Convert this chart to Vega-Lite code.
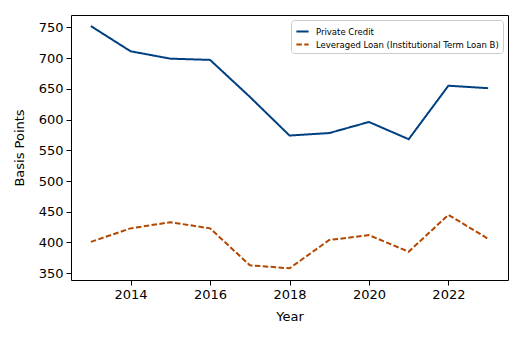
{
  "$schema": "https://vega.github.io/schema/vega-lite/v6.json",
  "width": 437,
  "height": 265,
  "autosize": "none",
  "padding": {"left": 71, "top": 15, "right": 14, "bottom": 58},
  "background": "white",
  "config": {
    "font": "DejaVu Sans",
    "view": {"stroke": "black", "strokeWidth": 1},
    "axis": {"grid": false, "domain": false, "tickColor": "black", "tickSize": 5, "tickWidth": 1, "labelColor": "black", "labelFontSize": 13, "labelPadding": 3, "titleFontSize": 13, "titleFontWeight": "normal", "titleColor": "black", "labelFont": "DejaVu Sans", "titleFont": "DejaVu Sans"},
    "legend": {"labelLimit": 0}
  },
  "data": {
    "values": [
      {"Year": 2013, "series": "Private Credit", "bp": 752},
      {"Year": 2014, "series": "Private Credit", "bp": 711},
      {"Year": 2015, "series": "Private Credit", "bp": 699},
      {"Year": 2016, "series": "Private Credit", "bp": 697},
      {"Year": 2017, "series": "Private Credit", "bp": 637},
      {"Year": 2018, "series": "Private Credit", "bp": 574},
      {"Year": 2019, "series": "Private Credit", "bp": 578},
      {"Year": 2020, "series": "Private Credit", "bp": 596},
      {"Year": 2021, "series": "Private Credit", "bp": 568},
      {"Year": 2022, "series": "Private Credit", "bp": 655},
      {"Year": 2023, "series": "Private Credit", "bp": 651},
      {"Year": 2013, "series": "Leveraged Loan (Institutional Term Loan B)", "bp": 401},
      {"Year": 2014, "series": "Leveraged Loan (Institutional Term Loan B)", "bp": 423},
      {"Year": 2015, "series": "Leveraged Loan (Institutional Term Loan B)", "bp": 433},
      {"Year": 2016, "series": "Leveraged Loan (Institutional Term Loan B)", "bp": 423},
      {"Year": 2017, "series": "Leveraged Loan (Institutional Term Loan B)", "bp": 363},
      {"Year": 2018, "series": "Leveraged Loan (Institutional Term Loan B)", "bp": 358},
      {"Year": 2019, "series": "Leveraged Loan (Institutional Term Loan B)", "bp": 404},
      {"Year": 2020, "series": "Leveraged Loan (Institutional Term Loan B)", "bp": 412},
      {"Year": 2021, "series": "Leveraged Loan (Institutional Term Loan B)", "bp": 385},
      {"Year": 2022, "series": "Leveraged Loan (Institutional Term Loan B)", "bp": 445},
      {"Year": 2023, "series": "Leveraged Loan (Institutional Term Loan B)", "bp": 406}
    ]
  },
  "mark": {"type": "line", "strokeWidth": 2, "clip": true},
  "encoding": {
    "x": {"field": "Year", "type": "quantitative", "title": "Year",
      "scale": {"domain": [2012.5, 2023.5], "nice": false, "zero": false},
      "axis": {"values": [2014, 2016, 2018, 2020, 2022], "format": "d", "titlePadding": 9}},
    "y": {"field": "bp", "type": "quantitative", "title": "Basis Points",
      "scale": {"domain": [339, 770], "nice": false, "zero": false},
      "axis": {"values": [350, 400, 450, 500, 550, 600, 650, 700, 750], "titlePadding": 12}},
    "color": {"field": "series", "type": "nominal",
      "scale": {"domain": ["Private Credit", "Leveraged Loan (Institutional Term Loan B)"], "range": ["#004080", "#b34700"]},
      "legend": {"title": null, "orient": "top-right", "offset": 5, "symbolType": "stroke", "symbolSize": 150, "symbolStrokeWidth": 2, "labelFontSize": 8.5, "labelLimit": 0, "labelColor": "black", "fillColor": "white", "strokeColor": "#cccccc", "cornerRadius": 3, "padding": 4, "rowPadding": 1, "labelOffset": 6}},
    "strokeDash": {"field": "series", "type": "nominal",
      "scale": {"domain": ["Private Credit", "Leveraged Loan (Institutional Term Loan B)"], "range": [[1, 0], [5.5, 2.4]]},
      "legend": {"title": null, "orient": "top-right", "offset": 5, "symbolType": "stroke", "symbolSize": 150, "symbolStrokeWidth": 2, "labelFontSize": 8.5, "labelLimit": 0, "labelColor": "black", "fillColor": "white", "strokeColor": "#cccccc", "cornerRadius": 3, "padding": 4, "rowPadding": 1, "labelOffset": 6}}
  }
}
